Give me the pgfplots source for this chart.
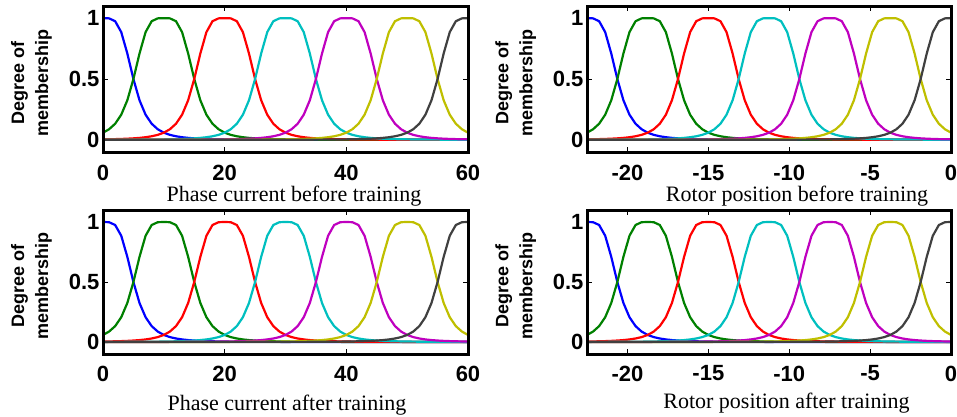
\documentclass[border=0pt]{standalone}
\usepackage{pgfplots}
\pgfplotsset{compat=1.18}
\usepackage{pgfplotstable}
\usepackage{fontspec}
\setmainfont{Liberation Serif}
\setsansfont{Liberation Sans}
\definecolor{mfA}{rgb}{0,0,1}
\definecolor{mfB}{rgb}{0,0.5,0}
\definecolor{mfC}{rgb}{1,0,0}
\definecolor{mfD}{rgb}{0,0.75,0.75}
\definecolor{mfE}{rgb}{0.75,0,0.75}
\definecolor{mfF}{rgb}{0.75,0.75,0}
\definecolor{mfG}{rgb}{0.25,0.25,0.25}

% membership degrees of the seven bell-shaped functions
% xc: phase current, xr: rotor position
\pgfplotstableread{
xc xr a b c d e f g
0 -22.5 1.0000 0.0588 0.0039 0.0008 0.0002 0.0001 0.0000
1 -22.125 0.9984 0.0870 0.0048 0.0009 0.0003 0.0001 0.0001
2 -21.75 0.9750 0.1324 0.0059 0.0010 0.0003 0.0001 0.0001
3 -21.375 0.8853 0.2065 0.0074 0.0012 0.0003 0.0001 0.0001
4 -21 0.7094 0.3254 0.0094 0.0014 0.0004 0.0001 0.0001
5 -20.625 0.5000 0.5000 0.0122 0.0016 0.0004 0.0002 0.0001
6 -20.25 0.3254 0.7094 0.0160 0.0019 0.0005 0.0002 0.0001
7 -19.875 0.2065 0.8853 0.0214 0.0022 0.0005 0.0002 0.0001
8 -19.5 0.1324 0.9750 0.0293 0.0027 0.0006 0.0002 0.0001
9 -19.125 0.0870 0.9984 0.0409 0.0032 0.0007 0.0002 0.0001
10 -18.75 0.0588 1.0000 0.0588 0.0039 0.0008 0.0002 0.0001
11 -18.375 0.0409 0.9984 0.0870 0.0048 0.0009 0.0003 0.0001
12 -18 0.0293 0.9750 0.1324 0.0059 0.0010 0.0003 0.0001
13 -17.625 0.0214 0.8853 0.2065 0.0074 0.0012 0.0003 0.0001
14 -17.25 0.0160 0.7094 0.3254 0.0094 0.0014 0.0004 0.0001
15 -16.875 0.0122 0.5000 0.5000 0.0122 0.0016 0.0004 0.0002
16 -16.5 0.0094 0.3254 0.7094 0.0160 0.0019 0.0005 0.0002
17 -16.125 0.0074 0.2065 0.8853 0.0214 0.0022 0.0005 0.0002
18 -15.75 0.0059 0.1324 0.9750 0.0293 0.0027 0.0006 0.0002
19 -15.375 0.0048 0.0870 0.9984 0.0409 0.0032 0.0007 0.0002
20 -15 0.0039 0.0588 1.0000 0.0588 0.0039 0.0008 0.0002
21 -14.625 0.0032 0.0409 0.9984 0.0870 0.0048 0.0009 0.0003
22 -14.25 0.0027 0.0293 0.9750 0.1324 0.0059 0.0010 0.0003
23 -13.875 0.0022 0.0214 0.8853 0.2065 0.0074 0.0012 0.0003
24 -13.5 0.0019 0.0160 0.7094 0.3254 0.0094 0.0014 0.0004
25 -13.125 0.0016 0.0122 0.5000 0.5000 0.0122 0.0016 0.0004
26 -12.75 0.0014 0.0094 0.3254 0.7094 0.0160 0.0019 0.0005
27 -12.375 0.0012 0.0074 0.2065 0.8853 0.0214 0.0022 0.0005
28 -12 0.0010 0.0059 0.1324 0.9750 0.0293 0.0027 0.0006
29 -11.625 0.0009 0.0048 0.0870 0.9984 0.0409 0.0032 0.0007
30 -11.25 0.0008 0.0039 0.0588 1.0000 0.0588 0.0039 0.0008
31 -10.875 0.0007 0.0032 0.0409 0.9984 0.0870 0.0048 0.0009
32 -10.5 0.0006 0.0027 0.0293 0.9750 0.1324 0.0059 0.0010
33 -10.125 0.0005 0.0022 0.0214 0.8853 0.2065 0.0074 0.0012
34 -9.75 0.0005 0.0019 0.0160 0.7094 0.3254 0.0094 0.0014
35 -9.375 0.0004 0.0016 0.0122 0.5000 0.5000 0.0122 0.0016
36 -9 0.0004 0.0014 0.0094 0.3254 0.7094 0.0160 0.0019
37 -8.625 0.0003 0.0012 0.0074 0.2065 0.8853 0.0214 0.0022
38 -8.25 0.0003 0.0010 0.0059 0.1324 0.9750 0.0293 0.0027
39 -7.875 0.0003 0.0009 0.0048 0.0870 0.9984 0.0409 0.0032
40 -7.5 0.0002 0.0008 0.0039 0.0588 1.0000 0.0588 0.0039
41 -7.125 0.0002 0.0007 0.0032 0.0409 0.9984 0.0870 0.0048
42 -6.75 0.0002 0.0006 0.0027 0.0293 0.9750 0.1324 0.0059
43 -6.375 0.0002 0.0005 0.0022 0.0214 0.8853 0.2065 0.0074
44 -6 0.0002 0.0005 0.0019 0.0160 0.7094 0.3254 0.0094
45 -5.625 0.0002 0.0004 0.0016 0.0122 0.5000 0.5000 0.0122
46 -5.25 0.0001 0.0004 0.0014 0.0094 0.3254 0.7094 0.0160
47 -4.875 0.0001 0.0003 0.0012 0.0074 0.2065 0.8853 0.0214
48 -4.5 0.0001 0.0003 0.0010 0.0059 0.1324 0.9750 0.0293
49 -4.125 0.0001 0.0003 0.0009 0.0048 0.0870 0.9984 0.0409
50 -3.75 0.0001 0.0002 0.0008 0.0039 0.0588 1.0000 0.0588
51 -3.375 0.0001 0.0002 0.0007 0.0032 0.0409 0.9984 0.0870
52 -3 0.0001 0.0002 0.0006 0.0027 0.0293 0.9750 0.1324
53 -2.625 0.0001 0.0002 0.0005 0.0022 0.0214 0.8853 0.2065
54 -2.25 0.0001 0.0002 0.0005 0.0019 0.0160 0.7094 0.3254
55 -1.875 0.0001 0.0002 0.0004 0.0016 0.0122 0.5000 0.5000
56 -1.5 0.0001 0.0001 0.0004 0.0014 0.0094 0.3254 0.7094
57 -1.125 0.0001 0.0001 0.0003 0.0012 0.0074 0.2065 0.8853
58 -0.75 0.0001 0.0001 0.0003 0.0010 0.0059 0.1324 0.9750
59 -0.375 0.0001 0.0001 0.0003 0.0009 0.0048 0.0870 0.9984
60 0 0.0000 0.0001 0.0002 0.0008 0.0039 0.0588 1.0000
}\mfdata

\pgfplotsset{
  mf/.style={
    scale only axis, width=365pt,
    ymin=-0.1, ymax=1.1,
    ytick={0,0.5,1}, yticklabels={0,0.5,1},
    tick align=inside, tick pos=both,
    major tick length=5pt,
    every tick/.style={black, line width=1pt},
    axis line style={line width=3pt},
    tick label style={font=\sffamily\bfseries\fontsize{22}{22}\selectfont},
    xticklabel style={inner sep=0pt},
    ylabel={Degree of\\membership},
    ylabel style={font=\sffamily\bfseries\fontsize{18}{24}\selectfont, align=center,
      at={(axis description cs:-0.196,0.47)}, anchor=center},
    xlabel style={font=\rmfamily\fontsize{22}{22}\selectfont, anchor=base, inner sep=0pt},
    every axis plot/.append style={line width=2.2pt, line join=round},
    after end axis/.code={\draw[line width=3pt, line cap=rect] (rel axis cs:0,0) rectangle (rel axis cs:1,1);},
  },
  cur/.style={mf, xmin=0, xmax=60, xtick={0,20,40,60}, xticklabels={0,20,40,60}},
  rot/.style={mf, width=364pt, xmin=-22.5, xmax=0, xtick={-20,-15,-10,-5,0}, xticklabels={-20,-15,-10,-5,0}},
}

\newcommand{\mfplots}[1]{%
  \addplot[mfA] table[x=#1,y=a]{\mfdata};
  \addplot[mfB] table[x=#1,y=b]{\mfdata};
  \addplot[mfC] table[x=#1,y=c]{\mfdata};
  \addplot[mfD] table[x=#1,y=d]{\mfdata};
  \addplot[mfE] table[x=#1,y=e]{\mfdata};
  \addplot[mfF] table[x=#1,y=f]{\mfdata};
  \addplot[mfG] table[x=#1,y=g]{\mfdata};
}

\begin{document}
\begin{tikzpicture}
\path[use as bounding box] (0,0) rectangle (957pt,416pt);

\begin{axis}[cur, height=146pt, at={(103pt,264pt)}, anchor=south west,
  xticklabel style={yshift=-13pt},
  xlabel={Phase current before training},
  xlabel style={at={(axis description cs:0.523,-0.337)}}]
\mfplots{xc}
\end{axis}

\begin{axis}[rot, height=146pt, at={(587pt,264pt)}, anchor=south west,
  xticklabel style={yshift=-13pt},
  xlabel={Rotor position before training},
  xlabel style={at={(axis description cs:0.577,-0.337)}}]
\mfplots{xr}
\end{axis}

\begin{axis}[cur, height=144pt, at={(103pt,62pt)}, anchor=south west,
  xticklabel style={yshift=-11.5pt},
  xlabel={Phase current after training},
  xlabel style={at={(axis description cs:0.504,-0.389)}}]
\mfplots{xc}
\end{axis}

\begin{axis}[rot, height=144pt, at={(587pt,62pt)}, anchor=south west,
  xticklabel style={yshift=-11.5pt},
  xlabel={Rotor position after training},
  xlabel style={at={(axis description cs:0.548,-0.375)}}]
\mfplots{xr}
\end{axis}
\end{tikzpicture}
\end{document}
